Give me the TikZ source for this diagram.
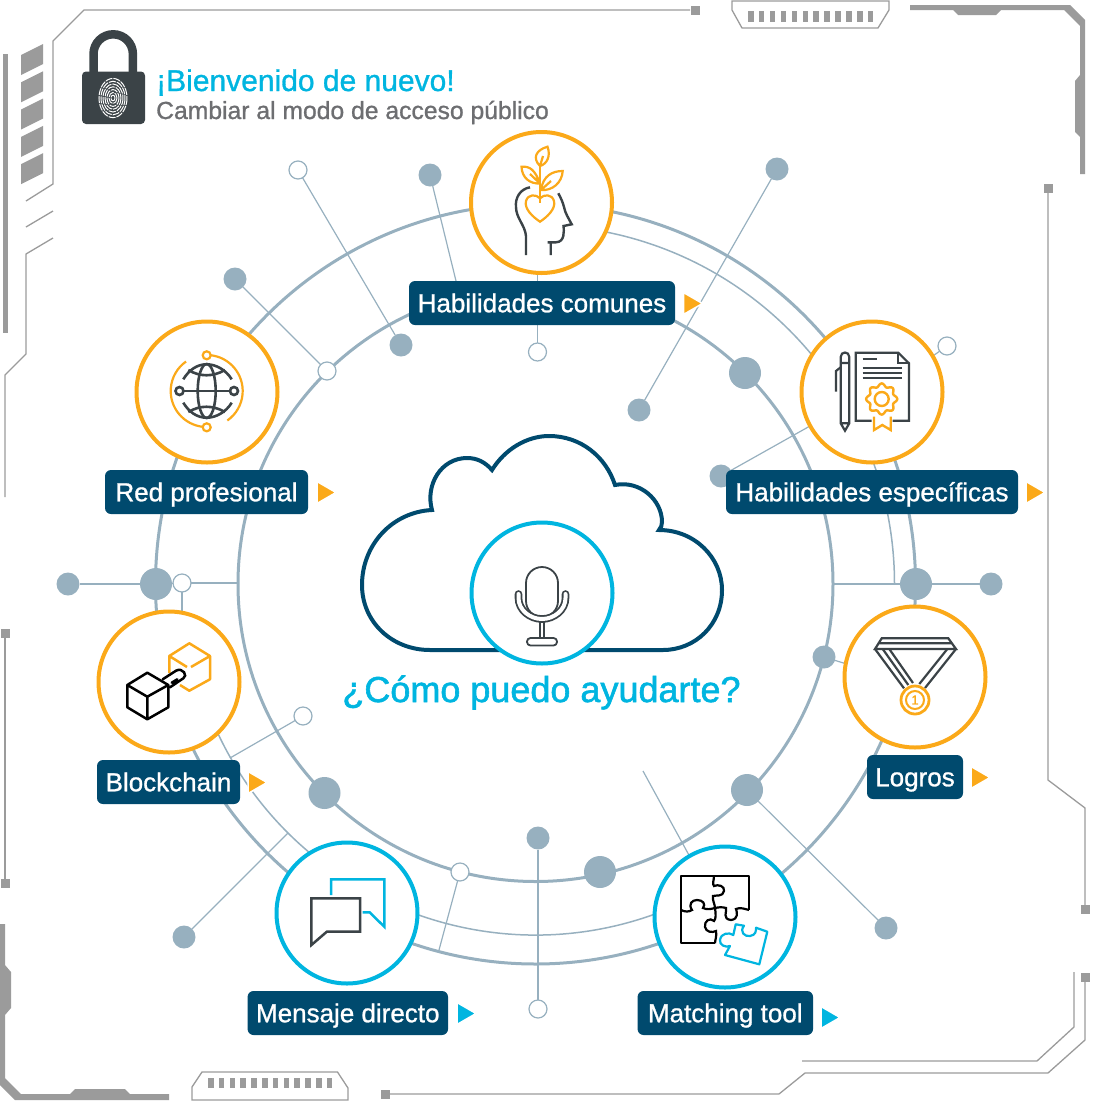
\documentclass[tikz,border=0pt]{standalone}
\usepackage{fontspec}
\setmainfont{Liberation Sans}
\newfontfamily\medfont[FakeBold=1.0]{Liberation Sans}
\newfontfamily\headfont[FakeBold=1.6]{Liberation Sans}
\usepackage{xcolor}
\usetikzlibrary{arrows.meta}
\usetikzlibrary{positioning}

\definecolor{ringblue}{HTML}{97B0BF}
\definecolor{navybox}{HTML}{004A6E}
\definecolor{skyline}{HTML}{00B5E0}
\definecolor{amber}{HTML}{FBA919}
\definecolor{icondark}{HTML}{3B4347}
\definecolor{framegray}{HTML}{9B9B9B}
\definecolor{greytext}{HTML}{6D6E71}

\tikzset{
  ringthick/.style={draw=ringblue, line width=3pt},
  ringthin/.style={draw=ringblue, line width=1.5pt},
  spoke/.style={draw=ringblue, line width=1.2pt},
  hubfill/.style={circle, fill=ringblue, inner sep=0pt, outer sep=0pt, minimum size=23pt},
  hubbig/.style={circle, fill=ringblue, inner sep=0pt, outer sep=0pt, minimum size=32pt},
  hubopen/.style={circle, draw=ringblue, fill=white, line width=1.2pt, inner sep=0pt, outer sep=0pt, minimum size=18pt},
  iconring/.style={circle, fill=white, line width=4pt, inner sep=0pt, outer sep=0pt, minimum size=141pt},
  labelbox/.style={rectangle, fill=navybox, rounded corners=6pt, text=white, inner sep=0pt, outer sep=0pt, minimum height=44pt, text height=18.5pt, text depth=0pt, font=\medfont\fontsize{26}{30}\selectfont},
  framethin/.style={draw=framegray, line width=1.3pt},
  icondraw/.style={draw=icondark, line width=2.2pt},
  iconamber/.style={draw=amber, line width=2.2pt},
}

\newcommand{\playmark}[3]{\filldraw[fill=#1, draw=white, line width=1.5pt] (#2,#3-11) -- (#2+19,#3) -- (#2,#3+11) -- cycle ;}

\begin{document}
\begin{tikzpicture}[x=1pt, y=-1pt]
\useasboundingbox (0,0) rectangle (1100,1101);

% Frame
\draw[framethin] (690,10) -- (84,10) -- (53,41) -- (53,184) -- (26,201) ;
\draw[framethin] (53,211) -- (26,227) ;
\draw[framethin] (53,238) -- (26,254) -- (26,354) -- (5,375) -- (5,497) ;
\fill[framegray] (690.5,5.5) rectangle (699.5,14.5) ;
\fill[framegray] (3,54) rectangle (8,333) ;
\foreach \i in {0,...,4}
  \fill[framegray] (21,55+27.3*\i) -- (43,44+27.3*\i) -- (43,64+27.3*\i) -- (21,75+27.3*\i) -- cycle ;
\draw[framethin] (732,1) -- (889,1) -- (889,10) -- (878,28) -- (742,28) -- (732,10) -- cycle ;
\foreach \i in {0,...,11}
  \fill[framegray] (748+10.9*\i,11) rectangle +(5.5,11) ;
\fill[framegray] (910,5) -- (1070,5) -- (1085,20) -- (1085,174) -- (1080,174) -- (1080,137) -- (1075,132) -- (1075,81) -- (1080,75) -- (1080,26) -- (1064,10) -- (1001,10) -- (996,15) -- (958,15) -- (953,10) -- (910,10) -- cycle ;
\fill[framegray] (1043.5,183.5) rectangle (1052.5,192.5) ;
\draw[framethin] (1048,188) -- (1048,780) -- (1085,808) -- (1085,909) ;
\fill[framegray] (1080.5,904.5) rectangle (1089.5,913.5) ;
\fill[framegray] (1080.5,972.5) rectangle (1089.5,981.5) ;
\draw[framethin] (1074,972) -- (1074,1027) -- (1037,1061) -- (802,1061) ;
\draw[framethin] (1085,977) -- (1085,1040) -- (1048,1073) -- (805,1073) -- (779,1094) -- (385,1094) ;
\fill[framegray] (380.5,1089.5) rectangle (389.5,1098.5) ;
\draw[framethin] (192,1100) -- (192,1087) -- (202,1072) -- (337.5,1072) -- (348,1088) -- (348,1100) -- cycle ;
\foreach \i in {0,...,11}
  \fill[framegray] (208+10.8*\i,1078) rectangle +(5.5,10) ;
\fill[framegray] (0,924) -- (5,924) -- (5,965) -- (11,972) -- (11,1008) -- (5,1015) -- (5,1078) -- (21,1094) -- (70,1094) -- (75,1089) -- (125,1089) -- (130,1094) -- (169,1094) -- (169,1100) -- (15,1100) -- (0,1085) -- cycle ;
\draw[framethin] (5,633) -- (5,883) ;
\fill[framegray] (0.5,628.5) rectangle (9.5,637.5) ;
\fill[framegray] (0.5,878.5) rectangle (9.5,887.5) ;

% Rings
\coordinate (hub) at (535.5,584) ;
\draw[ringthick] (hub) circle (380) ;
\draw[ringthick] (hub) circle (297.5) ;
\draw[ringthin] ([shift={(-80:359)}]hub) arc[start angle=-80, end angle=0, radius=359] ;
\draw[ringthin] ([shift={(68:351)}]hub) arc[start angle=68, end angle=156, radius=351] ;

% Small nodes
\node[hubopen] at (298,170) (o1) {} ;
\node[hubfill] at (401,345) (f1) {} ;
\node[hubfill] at (430,175) (f2) {} ;
\node[hubfill] at (777,169) (f3) {} ;
\node[hubfill] at (639,410) (f4) {} ;
\node[hubfill] at (235,279) (f5) {} ;
\node[hubopen] at (327,371) (o2) {} ;
\node[hubopen] at (537.5,352) (o3) {} ;
\node[hubopen] at (947,346) (o4) {} ;
\node[hubfill] at (721,476) (f6) {} ;
\node[hubfill] at (68,584) (f7) {} ;
\node[hubbig] at (156,584) (b1) {} ;
\node[hubopen] at (182,583) (o5) {} ;
\node[hubbig] at (916,584) (b2) {} ;
\node[hubfill] at (991,584) (f8) {} ;
\node[hubfill] at (824,657) (f9) {} ;
\node[hubopen] at (303,716) (o6) {} ;
\node[hubbig] at (324.5,793) (b3) {} ;
\node[hubfill] at (184,937) (f10) {} ;
\node[hubopen] at (460,872) (o7) {} ;
\node[hubfill] at (538,838) (f11) {} ;
\node[hubopen] at (538,1009) (o8) {} ;
\node[hubbig] at (600,872) (b4) {} ;
\node[hubbig] at (747,790) (b5) {} ;
\node[hubfill] at (886,928) (f12) {} ;
\node[hubbig] at (745,373) (b6) {} ;

% Free ends
\coordinate (e1) at (457,285) ;
\coordinate (e2) at (238,583) ;
\coordinate (e3) at (833,584) ;
\coordinate (e4) at (230,758) ;
\coordinate (e5) at (288,833) ;
\coordinate (e6) at (439,950) ;
\coordinate (e7) at (643,771) ;
\coordinate (e8) at (182,620) ;
\coordinate (e9) at (537.5,270) ;
\coordinate (e10) at (810,426) ;
\coordinate (e11) at (930,358) ;
\coordinate (e12) at (850,665) ;
\coordinate (e13) at (690,857) ;

% Lines
\draw[spoke] (o1) -- (f1) ;
\draw[spoke] (f2) -- (e1) ;
\draw[spoke] (f3) -- (f4) ;
\draw[spoke] (f5) -- (o2) ;
\draw[spoke] (o3) -- (e9) ;
\draw[spoke] (o4) -- (e11) ;
\draw[spoke] (f6) -- (e10) ;
\draw[spoke] (f7) -- (b1) ;
\draw[spoke] (b1) -- (o5) ;
\draw[spoke] (o5) -- (e2) ;
\draw[spoke] (o5) -- (e8) ;
\draw[spoke] (e3) -- (b2) ;
\draw[spoke] (b2) -- (f8) ;
\draw[spoke] (f9) -- (e12) ;
\draw[spoke] (o6) -- (e4) ;
\draw[spoke] (f10) -- (e5) ;
\draw[spoke] (o7) -- (e6) ;
\draw[spoke] (f11) -- (o8) ;
\draw[spoke] (e7) -- (e13) ;
\draw[spoke] (b5) -- (f12) ;

% Icon circles
\node[iconring, draw=amber] at (541.5,202.5) (commons) {} ;
\node[iconring, draw=amber] at (207,392) (network) {} ;
\node[iconring, draw=amber] at (872,392) (specific) {} ;
\node[iconring, draw=amber] at (169,682) (chain) {} ;
\node[iconring, draw=amber] at (915,677) (awards) {} ;
\node[iconring, draw=skyline] at (347,913) (message) {} ;
\node[iconring, draw=skyline] at (725,917) (matching) {} ;

% Labels
\node[labelbox, minimum width=266pt] at (542,303) (lcommons) {Habilidades comunes} ;
\node[labelbox, minimum width=203pt] at (206.5,492) (lnetwork) {Red profesional} ;
\node[labelbox, minimum width=292pt] at (872,492) (lspecific) {Habilidades específicas} ;
\node[labelbox, minimum width=143pt] at (168.5,782) (lchain) {Blockchain} ;
\node[labelbox, minimum width=96pt] at (915,777) (lawards) {Logros} ;
\node[labelbox, minimum width=200.5pt] at (347.8,1013) (lmessage) {Mensaje directo} ;
\node[labelbox, minimum width=175.5pt] at (725.3,1013) (lmatching) {Matching tool} ;

% Arrow marks
\playmark{amber}{683.5}{303.5}
\playmark{amber}{317}{492.5}
\playmark{amber}{1026}{492.5}
\playmark{amber}{248}{782.5}
\playmark{amber}{971}{777.5}
\playmark{skyline}{457}{1013.5}
\playmark{skyline}{821}{1017.5}

% Title
\fill[icondark, rounded corners=4pt] (82,71.5) rectangle (145,124) ;
\draw[icondark, line width=8.5pt] (93.5,75) -- (93.5,54) arc[start angle=180, end angle=360, radius=19.7] -- (133,75) ;
\foreach \r in {2,4,...,14}
  \draw[white, line width=1pt, dash pattern=on 7pt off 1pt] (113,98) ellipse ({\r} and {1.4*\r}) ;
\node[anchor=base west, inner sep=0pt, text=skyline, font=\medfont\fontsize{30}{34}\selectfont] at (156,91) (welcome) {¡Bienvenido de nuevo!} ;
\node[anchor=base west, inner sep=0pt, text=greytext, font=\medfont\fontsize{24.7}{28}\selectfont] at (156,119) (publicmode) {Cambiar al modo de acceso público} ;

% Cloud
\draw[navybox, line width=4pt, fill=white, line join=miter] (430,650)
  .. controls (392,650) and (362,622) .. (362,585) .. controls (362,545) and (392,512) .. (432,510)
  .. controls (425,485) and (441,458) .. (467,458) .. controls (477,458) and (485,462) .. (492,470)
  .. controls (505,449) and (527,436) .. (549,436) .. controls (581,436) and (606,457) .. (615,485)
  .. controls (640,480) and (662,500) .. (662,522) .. controls (662,525) and (661,528) .. (659,530)
  .. controls (695,530) and (722,558) .. (722,590) .. controls (722,625) and (695,650) .. (663,650) -- cycle ;
\node[iconring, draw=skyline] at (542,593) (voice) {} ;
\node[anchor=base, inner sep=0pt, text=skyline, font=\headfont\fontsize{36}{40}\selectfont] at (541.5,702) (prompt) {¿Cómo puedo ayudarte?} ;

% Microphone
\draw[icondark, line width=1.8pt] (526,583) arc[start angle=180, end angle=360, radius=16] -- (558,601) arc[start angle=0, end angle=180, radius=16] -- cycle ;
\draw[icondark, line width=1.8pt, double=white, double distance=4pt, line cap=round] (518.5,594) -- (518.5,598) .. controls (518.5,610) and (530,619) .. (542,619) .. controls (554,619) and (565.5,610) .. (565.5,598) -- (565.5,594) ;
\draw[icondark, line width=1.8pt] (540,622) -- (540,638) (544,622) -- (544,638) ;
\draw[icondark, line width=1.8pt, rounded corners=3.5pt] (527,638) rectangle (557,645.5) ;

% Head with plant
\draw[icondraw, line width=2.4pt] (530,187.3) .. controls (520,189) and (515,198) .. (516,207) .. controls (516,218) and (525,225) .. (526,236) -- (526,255) ;
\draw[icondraw, line width=2.4pt] (558.3,193.3) .. controls (561,198) and (563,203) .. (564,207) .. controls (565,213) and (569,219) .. (571.7,224.3) -- (563.5,226) .. controls (564,231) and (565,242) .. (556,242.3) -- (547.7,242.3) (550.7,242.3) -- (550.7,255) ;
\draw[iconamber] (540,198.3) .. controls (536,194) and (528,194) .. (526,201) .. controls (524,209) and (533,217) .. (540,221.7) .. controls (547,217) and (556,209) .. (554,201) .. controls (552,194) and (544,194) .. (540,198.3) -- cycle ;
\draw[iconamber] (540,166) -- (540,203) ;
\draw[iconamber] (540,166) .. controls (532,158) and (536,150) .. (547.5,146.7) .. controls (551,156) and (547,164) .. (540,166) (540,166) -- (543,156) ;
\draw[iconamber] (540,183.5) .. controls (535,170) and (530,166) .. (521.5,166.7) .. controls (522,178) and (530,184) .. (540,183.5) (540,183.5) -- (530,174) ;
\draw[iconamber] (541,190) .. controls (543,176) and (552,171) .. (562.7,171) .. controls (562,183) and (552,191) .. (541,190) (541,190) -- (551,181) ;

% Globe
\draw[icondraw, line width=2.6pt] (183.3,379.3) .. controls (189,370) and (197,364.3) .. (206.7,364.3) .. controls (216,364.3) and (226,370) .. (231.7,379.3) ;
\draw[icondraw, line width=2.6pt] (183.3,402.7) .. controls (189,412) and (197,417.7) .. (206.7,417.7) .. controls (216,417.7) and (226,412) .. (231.7,402.7) ;
\draw[icondraw, line width=2.6pt] (188.3,370) .. controls (200,377) and (213,377) .. (225,370) (188.3,412) .. controls (200,405) and (213,405) .. (225,412) ;
\draw[icondraw, line width=2.6pt] (206.7,391) ellipse (9 and 27) ;
\draw[icondraw, line width=2.6pt] (183.5,391) -- (230,391) ;
\draw[icondraw, line width=2.6pt, fill=white] (179.5,391) circle (4) (234,391) circle (4) ;
\draw[iconamber] ([shift={(-85:36)}]206.7,391) arc[start angle=-85, end angle=55, radius=36] ;
\draw[iconamber] ([shift={(95:36)}]206.7,391) arc[start angle=95, end angle=235, radius=36] ;
\draw[iconamber, fill=white] (206.7,355.3) circle (4) (206.7,427.3) circle (4) ;

% Document with pen
\draw[icondraw] (840.7,423.3) -- (840.7,357) .. controls (840.7,351) and (849.3,351) .. (849.3,357) -- (849.3,423.3) -- (845,430.7) -- cycle (840.7,363) -- (849.3,363) (840.7,423.3) -- (849.3,423.3) ;
\draw[icondraw] (836,391.7) -- (836,371) -- (840.7,367.3) ;
\draw[icondraw] (871.7,420.7) -- (855.7,420.7) -- (855.7,352.7) -- (898.3,352.7) -- (909,363.3) -- (909,420.7) -- (892.7,420.7) ;
\draw[icondraw] (898.3,352.7) -- (898.3,363.3) -- (909,363.3) ;
\draw[icondraw] (862.7,359.3) -- (877.3,359.3) (862.7,368.3) -- (901.7,368.3) (862.7,373.3) -- (901.7,373.3) (862.7,378.3) -- (901.7,378.3) ;
\draw[iconamber, line width=2.4pt] plot[domain=0:360, samples=73, smooth] ({881.7+(14+1.6*cos(8*\x))*cos(\x)}, {399+(14+1.6*cos(8*\x))*sin(\x)}) -- cycle ;
\draw[iconamber, line width=2.4pt] (881.7,399) circle (7) ;
\draw[iconamber, line width=2.4pt] (874,416.7) -- (874,430) -- (882.3,425) -- (890.7,430) -- (890.7,416.7) ;

% Cubes
\draw[amber, line width=2.5pt, line join=round] (169.3,673) -- (169.3,656) -- (189.3,643.3) -- (210,656) -- (210,679.3) -- (189.3,690.7) -- (180,685) (169.3,656) -- (187,667) (191,667) -- (210,656) ;
\draw[black, line width=2.5pt, line join=round] (147.3,672.7) -- (127.3,685) -- (127.3,707.3) -- (147.3,719.3) -- (168.3,707.3) -- (168.3,685) -- cycle (127.3,685) -- (147.3,696.7) -- (168.3,685) (147.3,696.7) -- (147.3,719.3) ;
\draw[black, line width=2.5pt, line cap=round] (162.7,679.3) -- (176,670.7) .. controls (183,667) and (188,676) .. (183.3,678.3) -- (170,687.3) (171.7,682.7) -- (177.3,679.3) ;

% Medal
\draw[icondraw] (875,649) -- (881.7,638.3) -- (948.3,638.3) -- (956,649) -- cycle (878,643.3) -- (952.5,643.3) ;
\draw[icondraw] (875,649) -- (904,688.3) (882.7,649) -- (908.3,685) (889.3,649) -- (913,683) ;
\draw[icondraw] (956,649) -- (925,688) (947.3,649) -- (919.3,684) ;
\draw[iconamber, line width=2.8pt, fill=white] (915,700) circle (14) ;
\draw[iconamber, line width=2pt] (915,700) circle (9) ;
\node[text=amber, inner sep=0pt, font=\headfont\fontsize{13}{13}\selectfont] at (915,700) (first) {1} ;

% Chat
\draw[icondraw, line width=2.5pt, line join=miter] (311.4,898.3) -- (360,898.3) -- (360,931.7) -- (326.8,931.7) -- (311.4,945) -- cycle ;
\draw[skyline, line width=2.5pt, line join=miter] (331,895) -- (331,879.3) -- (384.3,879.3) -- (384.3,926.7) -- (369.6,912.3) -- (362.5,912.3) ;

% Puzzle
\draw[black, line width=2.2pt, line join=round] (749,910) -- (749,876) -- (681,876) -- (681,943.3) -- (715,943.3) ;
\draw[black, line width=2.2pt] (714,876) .. controls (714,880) and (712,884) .. (714,886) .. controls (718,884) and (725,886) .. (724,891) .. controls (723,897) and (716,895) .. (713,896) .. controls (712,900) and (715,904) .. (715,908) .. controls (716,914) and (716,919) .. (714,921) .. controls (710,917) and (704,921) .. (705,927) .. controls (706,932) and (712,933) .. (716,931) .. controls (717,936) and (715,940) .. (715,943.3) ;
\draw[black, line width=2.2pt] (681,910) .. controls (685,912) and (689,912) .. (692,910) .. controls (688,904) and (692,900) .. (697,900) .. controls (703,900) and (706,904) .. (703,908) .. controls (707,910) and (711,909) .. (715,908) .. controls (719,907) and (723,907) .. (726,908) .. controls (727,912) and (722,919) .. (731,920) .. controls (739,919) and (737,912) .. (736,909) .. controls (740,907) and (745,909) .. (749,910) ;
\draw[skyline, line width=2.2pt, line join=round] (735.7,924.3) -- (744,925.7) .. controls (739,932) and (745,937) .. (750,936) .. controls (756,935) and (756,931) .. (756,927.7) -- (767.3,931.7) -- (759.3,964.3) -- (725,955) -- (730,946) .. controls (726,948) and (719,945) .. (720,940) .. controls (721,933) and (729,932) .. (733.3,935) -- cycle ;

\end{tikzpicture}
\end{document}
